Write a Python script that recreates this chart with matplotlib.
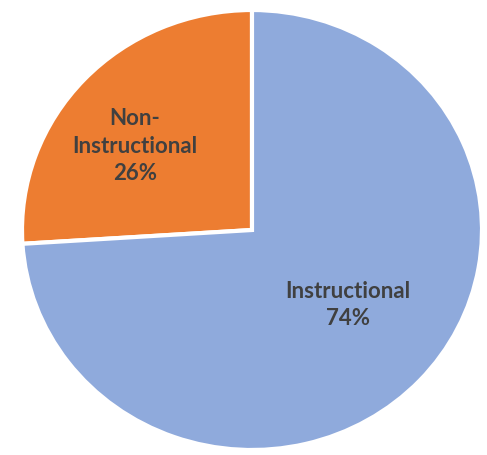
import matplotlib
matplotlib.use('Agg')
import matplotlib.pyplot as plt

labels = ['Non-\nInstructional', 'Instructional']
shares = [26, 74]
colors = ['#ED7D31', '#8FAADC']

fig = plt.figure(figsize=(4.87, 4.55), dpi=100)
ax = fig.add_axes([22 / 487, 5 / 455, 460 / 487, 440 / 455])

wedges, texts = ax.pie(shares, colors=colors, startangle=90, counterclock=True,
                       wedgeprops=dict(edgecolor='white', linewidth=3))
ax.set_aspect('auto')
ax.set_xlim(-1, 1)
ax.set_ylim(-1, 1)

# labels placed in data coords of the (stretched) pie
spots = [(-0.51, 0.38), (0.417, -0.34)]
for lab, share, (x, y) in zip(labels, shares, spots):
    ax.text(x, y, f"{lab}\n{share}%", ha='center', va='center', fontsize=16,
            fontweight='bold', family='Lato', color='#404040', linespacing=1.38)

fig.savefig('out.png', dpi=100)
